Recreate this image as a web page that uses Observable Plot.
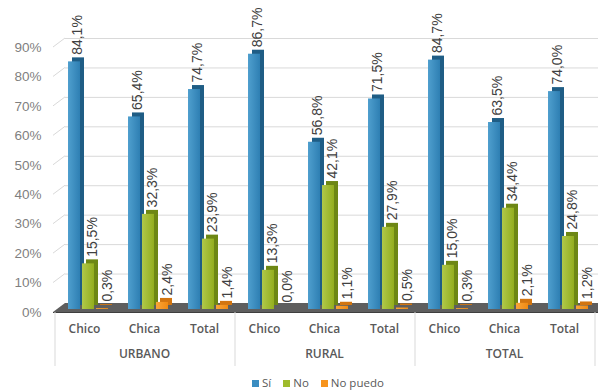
<!DOCTYPE html>
<html>
<head>
<meta charset="utf-8">
<script src="https://cdn.jsdelivr.net/npm/d3@7"></script>
<script src="https://cdn.jsdelivr.net/npm/@observablehq/plot@0.6"></script>
<style>
  body { margin: 0; background: #fff; }
  #chart svg { overflow: visible; display: block; }
  #legend { height: 14px; line-height: 14px; padding-left: 252px; font-family: "Open Sans", sans-serif; font-size: 11.5px; color: #595959; white-space: nowrap; }
  #legend .item { display: inline-block; margin-right: 12px; }
  #legend .sw { display: inline-block; width: 7px; height: 7px; margin-right: 3px; vertical-align: 0px; }
</style>
</head>
<body>
<svg width="0" height="0" style="position:absolute">
  <defs>
    <linearGradient id="gBlue" x1="0" x2="1" y1="0" y2="0"><stop offset="0" stop-color="#4f9fce"/><stop offset="1" stop-color="#2e7fb3"/></linearGradient>
    <linearGradient id="gGreen" x1="0" x2="1" y1="0" y2="0"><stop offset="0" stop-color="#b0c84a"/><stop offset="1" stop-color="#93ae1e"/></linearGradient>
    <linearGradient id="gOrange" x1="0" x2="1" y1="0" y2="0"><stop offset="0" stop-color="#f9a53a"/><stop offset="1" stop-color="#f08a12"/></linearGradient>
  </defs>
</svg>
<div id="chart"></div>
<div id="legend"></div>
<script>
const categories = ["Chico", "Chica", "Total", "Chico", "Chica", "Total", "Chico", "Chica", "Total"];
const groups = ["URBANO", "RURAL", "TOTAL"];
const series = ["Sí", "No", "No puedo"];
const si = [84.1, 65.4, 74.7, 86.7, 56.8, 71.5, 84.7, 63.5, 74.0];
const no = [15.5, 32.3, 23.9, 13.3, 42.1, 27.9, 15.0, 34.4, 24.8];
const noPuedo = [0.3, 2.4, 1.4, 0.0, 1.1, 0.5, 0.3, 2.1, 1.2];
const yTicks = [0, 10, 20, 30, 40, 50, 60, 70, 80, 90];

const seriesValues = [si, no, noPuedo];
const frontFill = ["url(#gBlue)", "url(#gGreen)", "url(#gOrange)"];
const sideFill = ["#1f5d85", "#6d8714", "#d27510"];
const legendColors = ["#3a8dc1", "#9fbb2c", "#f7941d"];

const ids = categories.map((_, i) => String(i));
const data = [];
categories.forEach((c, i) => series.forEach((s, k) => data.push({ id: String(i), cat: c, series: s, k, value: seriesValues[k][i] })));

const fmt = v => v.toFixed(1).replace(".", ",") + "%";
const DX = 12, DY = 9; // wall depth in px

function decor(index, scales, values, dims) {
  const { x, y } = scales;
  const g = d3.create("svg:g");
  const x0 = dims.marginLeft;
  const xr = dims.width;
  const y0 = y(0);
  yTicks.filter(t => t > 0).forEach(t => {
    g.append("line").attr("x1", x0 - 1).attr("y1", y(t)).attr("x2", x0 - 1 + DX).attr("y2", y(t) - DY)
      .attr("stroke", "#d9d9d9").attr("stroke-width", 1);
  });
  g.append("path")
    .attr("d", `M${x0 - 1},${y0}L${x0 - 1 + DX},${y0 - DY}L${xr},${y0 - DY}L${xr},${y0}Z`)
    .attr("fill", "#5e5e5e");
  g.append("line").attr("x1", x0 - 1).attr("x2", xr).attr("y1", y0 + 0.5).attr("y2", y0 + 0.5).attr("stroke", "#3f3f3f");
  const bw = x.bandwidth ? x.bandwidth() : 60;
  const seps = [x("0"), x("3"), x("6"), x("8") + bw];
  seps.forEach(sx => {
    g.append("line").attr("x1", sx + 1).attr("x2", sx + 1).attr("y1", y0).attr("y2", y0 + 54)
      .attr("stroke", "#d9d9d9").attr("stroke-width", 1);
  });
  return g.node();
}

const barMarks = [];
series.forEach((s, k) => {
  const rows = data.filter(d => d.k === k);
  const insetLeft = 14 + 14 * k;
  const insetRight = 60 - insetLeft - 12;
  barMarks.push(Plot.barY(rows, { x: "id", y: "value", fill: sideFill[k], insetLeft, insetRight, dx: 4, dy: -7 }));
  barMarks.push(Plot.barY(rows, { x: "id", y: "value", fill: frontFill[k], insetLeft, insetRight, dy: -3 }));
});

const labelDx = [-7, 8, 23];
const labelMarks = series.map((s, k) => Plot.text(data.filter(d => d.k === k), {
  x: "id", y: "value", text: d => fmt(d.value), rotate: -90, textAnchor: "start", lineAnchor: "middle",
  dx: labelDx[k], dy: -10, fontSize: 14, fill: "#404040", fontFamily: "Liberation Sans, Arial, sans-serif"
}));

const groupRows = groups.map((g, i) => ({ id: String(i * 3 + 1), label: g }));

const plot = Plot.plot({
  width: 598,
  height: 376,
  marginLeft: 54,
  marginRight: 4,
  marginTop: 47,
  marginBottom: 64,
  style: { background: "#fff", overflow: "visible" },
  x: { type: "band", domain: ids, padding: 0, axis: null },
  y: { domain: [0, 90], axis: null },
  marks: [
    Plot.ruleY(yTicks.filter(t => t > 0), { dy: -DY, insetLeft: DX - 1, insetRight: -4, stroke: "#d9d9d9" }),
    decor,
    ...barMarks,
    ...labelMarks,
    Plot.axisY({ ticks: yTicks, tickFormat: d => d + "%", tickSize: 0, tickPadding: 13, fontSize: 13.5, color: "#7f7f7f", label: null, fontFamily: "Liberation Sans, Arial, sans-serif" }),
    Plot.axisX({ tickFormat: d => categories[+d], tickSize: 0, tickPadding: 12, fontSize: 12, fontWeight: 600, color: "#595959", label: null, fontFamily: "Open Sans, sans-serif" }),
    Plot.text(groupRows, { x: "id", frameAnchor: "bottom", text: "label", dy: 45, fontSize: 12, fontWeight: 600, fill: "#595959", fontFamily: "Open Sans, sans-serif" })
  ]
});
document.getElementById("chart").appendChild(plot);

const legend = document.getElementById("legend");
series.forEach((s, k) => {
  const item = document.createElement("span");
  item.className = "item";
  const sw = document.createElement("span");
  sw.className = "sw";
  sw.style.background = legendColors[k];
  item.appendChild(sw);
  item.appendChild(document.createTextNode(s));
  legend.appendChild(item);
});
</script>
</body>
</html>
